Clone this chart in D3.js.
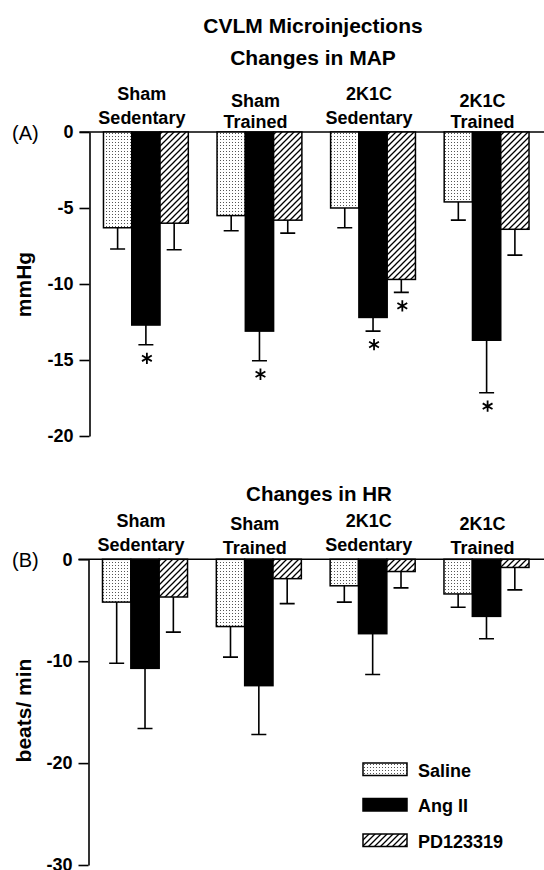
<!DOCTYPE html>
<html>
<head>
<meta charset="utf-8">
<script src="https://cdn.jsdelivr.net/npm/d3@7"></script>
<style>
  body { margin: 0; background: #fff; }
  svg { display: block; font-family: "Liberation Sans", Arial, Helvetica, sans-serif; }
</style>
</head>
<body>
<svg id="chart" width="544" height="870"></svg>
<script>
// Groups and treatments
var groupTop = ["Sham", "Sham", "2K1C", "2K1C"],
    groupBottom = ["Sedentary", "Trained", "Sedentary", "Trained"],
    treatments = ["Saline", "Ang II", "PD123319"];

// (A) changes in MAP, mmHg (mean, SEM)
var mapSaline = [-6.3, -5.5, -5.0, -4.6],
    mapAngII = [-12.7, -13.1, -12.2, -13.7],
    mapPD = [-6.0, -5.8, -9.7, -6.4];
var mapSalineErr = [1.4, 1.0, 1.3, 1.2],
    mapAngIIErr = [1.3, 1.95, 0.9, 3.45],
    mapPDErr = [1.75, 0.85, 0.85, 1.7];
var mapSalineSig = [false, false, false, false],
    mapAngIISig = [true, true, true, true],
    mapPDSig = [false, false, true, false];
var mapTicks = [0, -5, -10, -15, -20];

// (B) changes in HR, beats/min
var hrSaline = [-4.2, -6.6, -2.6, -3.4],
    hrAngII = [-10.7, -12.4, -7.3, -5.6],
    hrPD = [-3.7, -1.9, -1.2, -0.8];
var hrSalineErr = [6.0, 3.0, 1.6, 1.3],
    hrAngIIErr = [5.9, 4.8, 4.0, 2.2],
    hrPDErr = [3.45, 2.45, 1.6, 2.2];
var hrTicks = [0, -10, -20, -30];

var svg = d3.select("#chart");
var groupIdx = d3.range(groupTop.length);

// patterns for the bar fills
var defs = svg.append("defs");
var dots = defs.append("pattern")
    .attr("id", "dots")
    .attr("patternUnits", "userSpaceOnUse")
    .attr("width", 3).attr("height", 3);
dots.append("rect").attr("width", 3).attr("height", 3).attr("fill", "#fff");
dots.append("rect").attr("x", 1).attr("y", 1).attr("width", 1).attr("height", 1).attr("fill", "#555");

var hatch = defs.append("pattern")
    .attr("id", "hatch")
    .attr("patternUnits", "userSpaceOnUse")
    .attr("width", 6).attr("height", 6);
hatch.append("rect").attr("width", 6).attr("height", 6).attr("fill", "#fff");
hatch.append("path")
    .attr("d", "M-1,1 l2,-2 M0,6 l6,-6 M5,7 l2,-2")
    .attr("stroke", "#000").attr("stroke-width", 1.3);

var fills = ["url(#dots)", "#000", "url(#hatch)"];

var asterisk = d3.symbol().type(d3.symbolAsterisk).size(90);

function drawPanel(opts) {
    var g = svg.append("g");
    var x = d3.scaleBand()
        .domain(groupIdx)
        .range([opts.axisX, 543])
        .paddingInner(0.253)
        .paddingOuter(0.123);
    var xSub = d3.scaleBand()
        .domain(d3.range(treatments.length))
        .range([0, x.bandwidth()]);
    var y = d3.scaleLinear().domain(opts.domain).range(opts.yRange);

    // zero line across the chart
    g.append("line")
        .attr("x1", opts.axisX - 10).attr("x2", 544)
        .attr("y1", y(0)).attr("y2", y(0))
        .attr("stroke", "#000").attr("stroke-width", 1.6);

    // bars
    opts.series.forEach(function (s, si) {
        var bx = i => x(i) + xSub(si);
        g.selectAll(null)
            .data(groupIdx)
            .enter()
            .append("rect")
            .attr("x", bx)
            .attr("y", y(0))
            .attr("width", xSub.bandwidth())
            .attr("height", i => y(s.mean[i]) - y(0))
            .attr("fill", fills[si])
            .attr("stroke", "#000")
            .attr("stroke-width", 1.5);

        // error bars (downward only)
        var cx = i => bx(i) + xSub.bandwidth() / 2;
        g.selectAll(null)
            .data(groupIdx)
            .enter()
            .append("path")
            .attr("d", i => {
                var y1 = y(s.mean[i]), y2 = y(s.mean[i] - s.err[i]);
                return "M" + cx(i) + "," + y1 + "V" + y2 +
                    "M" + (cx(i) - 7.5) + "," + y2 + "H" + (cx(i) + 7.5);
            })
            .attr("fill", "none")
            .attr("stroke", "#000")
            .attr("stroke-width", 1.6);

        if (s.sig) {
            g.selectAll(null)
                .data(groupIdx.filter(i => s.sig[i]))
                .enter()
                .append("path")
                .attr("d", asterisk)
                .attr("transform", i => "translate(" + (cx(i) + 1) + "," + (y(s.mean[i] - s.err[i]) + 13.5) + ")")
                .attr("fill", "none")
                .attr("stroke", "#000")
                .attr("stroke-width", 1.8);
        }
    });

    // y axis
    var axis = g.append("g")
        .attr("transform", "translate(" + opts.axisX + ",0)")
        .call(d3.axisLeft(y)
            .tickValues(opts.ticks)
            .tickFormat(d => String(d))
            .tickSize(10)
            .tickSizeOuter(0)
            .tickPadding(6));
    axis.select(".domain").attr("stroke-width", 1.6);
    axis.selectAll(".tick line").attr("stroke-width", 1.6);
    axis.selectAll("text")
        .attr("font-size", 18)
        .attr("font-weight", "bold")
        .attr("font-family", "Liberation Sans, Arial, sans-serif")
        .attr("fill", "#000");

    // y title
    g.append("text")
        .attr("transform", "translate(31," + opts.titleY + ") rotate(-90)")
        .attr("text-anchor", "middle")
        .attr("font-size", 21)
        .attr("font-weight", "bold")
        .text(opts.yLabel);

    // panel letter
    g.append("text")
        .attr("x", 12).attr("y", y(0) + 8)
        .attr("font-size", 20)
        .text(opts.letter);

    // group labels (two lines, staggered)
    var lbl = g.selectAll("text.group")
        .data(groupIdx)
        .enter()
        .append("text")
        .attr("class", "group")
        .attr("text-anchor", "middle")
        .attr("font-size", 18)
        .attr("font-weight", "bold");
    lbl.append("tspan")
        .attr("x", i => x(i) + x.bandwidth() / 2 - 4)
        .attr("y", i => y(0) + opts.line1[i % 2])
        .text(i => groupTop[i]);
    lbl.append("tspan")
        .attr("x", i => x(i) + x.bandwidth() / 2 - 4)
        .attr("y", i => y(0) + opts.line2[i % 2])
        .text(i => groupBottom[i]);

    return { x: x, y: y };
}

// titles
svg.append("text").attr("x", 313).attr("y", 32.5)
    .attr("text-anchor", "middle").attr("font-size", 21).attr("font-weight", "bold")
    .text("CVLM Microinjections");
svg.append("text").attr("x", 313).attr("y", 65)
    .attr("text-anchor", "middle").attr("font-size", 21).attr("font-weight", "bold")
    .text("Changes in MAP");
svg.append("text").attr("x", 319).attr("y", 500.5)
    .attr("text-anchor", "middle").attr("font-size", 20.5).attr("font-weight", "bold")
    .text("Changes in HR");

drawPanel({
    letter: "(A)",
    yLabel: "mmHg",
    axisX: 89.5,
    domain: [0, -20],
    yRange: [132, 436],
    ticks: mapTicks,
    titleY: 284.5,
    line1: [-32, -25],
    line2: [-8, -4],
    series: [
        { mean: mapSaline, err: mapSalineErr, sig: mapSalineSig },
        { mean: mapAngII, err: mapAngIIErr, sig: mapAngIISig },
        { mean: mapPD, err: mapPDErr, sig: mapPDSig }
    ]
});

drawPanel({
    letter: "(B)",
    yLabel: "beats/ min",
    axisX: 88.5,
    domain: [0, -30],
    yRange: [559.3, 865],
    ticks: hrTicks,
    titleY: 710.5,
    line1: [-32, -29],
    line2: [-8.5, -5],
    series: [
        { mean: hrSaline, err: hrSalineErr },
        { mean: hrAngII, err: hrAngIIErr },
        { mean: hrPD, err: hrPDErr }
    ]
});

// legend
var legend = svg.append("g").attr("transform", "translate(363,763)");
var legItems = legend.selectAll("g")
    .data(treatments)
    .enter()
    .append("g")
    .attr("transform", (d, i) => "translate(0," + (i * 35.5) + ")");
legItems.append("rect")
    .attr("width", 44).attr("height", 12.5)
    .attr("fill", (d, i) => fills[i])
    .attr("stroke", "#000")
    .attr("stroke-width", 1.5);
legItems.append("text")
    .attr("x", 55).attr("y", 13.5)
    .attr("font-size", 18)
    .attr("font-weight", "bold")
    .text(d => d);
</script>
</body>
</html>
